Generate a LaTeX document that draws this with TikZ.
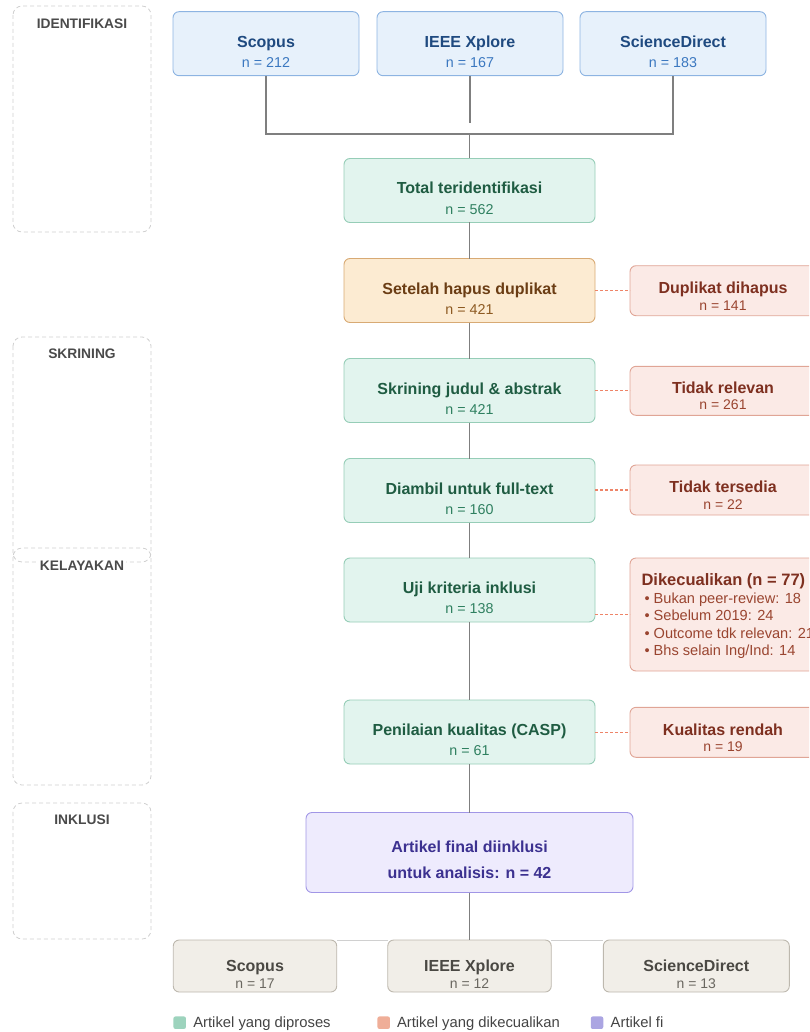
\documentclass[tikz,border=0pt]{standalone}
\usepackage{fontspec}
\setmainfont{Liberation Sans}
\definecolor{bfill}{HTML}{E7F1FB}\definecolor{bdraw}{HTML}{8DB4E2}\definecolor{btit}{HTML}{1F4A80}\definecolor{bn}{HTML}{3B78C0}
\definecolor{gfill}{HTML}{E2F4EE}\definecolor{gdraw}{HTML}{96CDB7}\definecolor{gtit}{HTML}{1F5C42}\definecolor{gn}{HTML}{2F8060}
\definecolor{ofill}{HTML}{FCEBD2}\definecolor{odraw}{HTML}{D8AA74}\definecolor{otit}{HTML}{6B3D14}\definecolor{on}{HTML}{8D5A22}
\definecolor{rfill}{HTML}{FBEAE6}\definecolor{rdraw}{HTML}{E0A596}\definecolor{rtit}{HTML}{7E3020}\definecolor{rn}{HTML}{9A4530}
\definecolor{pfill}{HTML}{EEEBFD}\definecolor{pdraw}{HTML}{A196E6}\definecolor{ptit}{HTML}{3C3190}
\definecolor{yfill}{HTML}{F1EEE8}\definecolor{ydraw}{HTML}{BDB8AE}\definecolor{ytit}{HTML}{4A4843}\definecolor{yn}{HTML}{6A6760}
\definecolor{conncol}{HTML}{7F7F7F}\definecolor{dashcol}{HTML}{EE8468}\definecolor{phasecol}{HTML}{D0D0D0}\definecolor{phasetxt}{HTML}{4A4A4A}
\definecolor{leggreen}{HTML}{9DD3BD}\definecolor{legorange}{HTML}{EFAE98}\definecolor{legpurple}{HTML}{ABA5E2}\definecolor{legtxt}{HTML}{444444}
\begin{document}
\begin{tikzpicture}[x=1pt,y=-1pt,
  every node/.style={inner sep=0pt, outer sep=0pt},
  basebox/.style={draw, rounded corners=6pt, line width=0.9pt},
  srcbox/.style={basebox, fill=bfill, draw=bdraw},
  srctit/.style={font=\fontsize{16}{19}\selectfont\bfseries, text=btit},
  srcn/.style={font=\fontsize{14.3}{17}\selectfont, text=bn},
  grnbox/.style={basebox, fill=gfill, draw=gdraw},
  grntit/.style={font=\fontsize{16}{19}\selectfont\bfseries, text=gtit},
  grnn/.style={font=\fontsize{14.3}{17}\selectfont, text=gn},
  orabox/.style={basebox, fill=ofill, draw=odraw},
  oratit/.style={font=\fontsize{16}{19}\selectfont\bfseries, text=otit},
  oran/.style={font=\fontsize{14.3}{17}\selectfont, text=on},
  redbox/.style={basebox, fill=rfill, draw=rdraw},
  redtit/.style={font=\fontsize{16}{19}\selectfont\bfseries, text=rtit},
  redn/.style={font=\fontsize{14}{17}\selectfont, text=rn},
  begbox/.style={basebox, fill=yfill, draw=ydraw},
  begtit/.style={font=\fontsize{16}{19}\selectfont\bfseries, text=ytit},
  begn/.style={font=\fontsize{14}{17}\selectfont, text=yn},
  finbox/.style={basebox, fill=pfill, draw=pdraw},
  fintit/.style={font=\fontsize{16}{19}\selectfont\bfseries, text=ptit},
  phase/.style={draw=phasecol, line width=0.8pt, dash pattern=on 4pt off 3pt, rounded corners=9pt},
  phaselbl/.style={font=\fontsize{13.8}{16}\selectfont\bfseries, text=phasetxt, fill=white, inner xsep=2pt, inner ysep=1pt},
  conn/.style={draw=conncol, line width=1.3pt},
  lightconn/.style={draw=phasecol, line width=1pt},
  exconn/.style={draw=dashcol, line width=1.1pt, dash pattern=on 3pt off 2pt},
  legsq/.style={minimum width=12.5pt, minimum height=12.5pt, rounded corners=2pt},
  legtext/.style={font=\fontsize{14.8}{17}\selectfont, text=legtxt, anchor=base west},
  bul/.style={font=\fontsize{14.6}{17}\selectfont, text=rn, anchor=base west}
]
\useasboundingbox (0,0) rectangle (809,1032);
\clip (0,0) rectangle (809,1032);

% phase frames
\draw[phase] (13,6) rectangle (151,232);
\draw[phase] (13,337) rectangle (151,562);
\draw[phase] (13,548) rectangle (151,785);
\draw[phase] (13,803) rectangle (151,939);
\node[phaselbl, anchor=base] (ph1) at (82,28.3) {IDENTIFIKASI};
\node[phaselbl, anchor=base] (ph2) at (82,358.3) {SKRINING};
\node[phaselbl, anchor=base] (ph3) at (82,570.7) {KELAYAKAN};
\node[phaselbl, anchor=base] (ph4) at (82,824) {INKLUSI};

% coordinates for joins
\coordinate (hL) at (266,134);
\coordinate (hR) at (673,134);
\coordinate (hj) at (469.5,134);
\coordinate (ieeeEnd) at (470,123);

% sources
\node[srcbox, minimum width=186pt, minimum height=64pt] (s1) at (266,43.7) {};
\node[srctit, anchor=base] (s1-t) at (266,47.7) {Scopus};
\node[srcn, anchor=base] (s1-n) at (266,68) {n = 212};
\node[srcbox, minimum width=186pt, minimum height=64pt] (s2) at (470,43.7) {};
\node[srctit, anchor=base] (s2-t) at (470,47.7) {IEEE Xplore};
\node[srcn, anchor=base] (s2-n) at (470,68) {n = 167};
\node[srcbox, minimum width=186pt, minimum height=64pt] (s3) at (673,43.7) {};
\node[srctit, anchor=base] (s3-t) at (673,47.7) {ScienceDirect};
\node[srcn, anchor=base] (s3-n) at (673,68) {n = 183};

% main column
\node[grnbox, minimum width=251pt, minimum height=64pt] (total) at (469.5,190.5) {};
\node[grntit, anchor=base] (total-t) at (469.5,194) {Total teridentifikasi};
\node[grnn, anchor=base] (total-n) at (469.5,214.5) {n = 562};

\node[orabox, minimum width=251pt, minimum height=64pt] (setelah) at (469.5,290.5) {};
\node[oratit, anchor=base] (setelah-t) at (469.5,294.5) {Setelah hapus duplikat};
\node[oran, anchor=base] (setelah-n) at (469.5,314.5) {n = 421};

\node[grnbox, minimum width=251pt, minimum height=64pt] (skr) at (469.5,390.5) {};
\node[grntit, anchor=base] (skr-t) at (469.5,394.5) {Skrining judul \& abstrak};
\node[grnn, anchor=base] (skr-n) at (469.5,414.5) {n = 421};

\node[grnbox, minimum width=251pt, minimum height=64pt] (ambil) at (469.5,490.5) {};
\node[grntit, anchor=base] (ambil-t) at (469.5,494.5) {Diambil untuk full-text};
\node[grnn, anchor=base] (ambil-n) at (469.5,514.5) {n = 160};

\node[grnbox, minimum width=251pt, minimum height=64pt] (uji) at (469.5,590) {};
\node[grntit, anchor=base] (uji-t) at (469.5,593.5) {Uji kriteria inklusi};
\node[grnn, anchor=base] (uji-n) at (469.5,613.5) {n = 138};

\node[grnbox, minimum width=251pt, minimum height=64pt] (casp) at (469.5,732) {};
\node[grntit, anchor=base] (casp-t) at (469.5,735.5) {Penilaian kualitas (CASP)};
\node[grnn, anchor=base] (casp-n) at (469.5,755.5) {n = 61};

% exclusion boxes
\node[redbox, minimum width=186pt, minimum height=50pt] (dup) at (723,290.7) {};
\node[redtit, anchor=base] (dup-t) at (723,293.7) {Duplikat dihapus};
\node[redn, anchor=base] (dup-n) at (723,310) {n = 141};

\node[redbox, minimum width=186pt, minimum height=49pt] (rel) at (723,390.8) {};
\node[redtit, anchor=base] (rel-t) at (723,393.3) {Tidak relevan};
\node[redn, anchor=base] (rel-n) at (723,409.5) {n = 261};

\node[redbox, minimum width=186pt, minimum height=50pt] (sed) at (723,490) {};
\node[redtit, anchor=base] (sed-t) at (723,492.8) {Tidak tersedia};
\node[redn, anchor=base] (sed-n) at (723,509) {n = 22};

\node[redbox, minimum width=186pt, minimum height=113pt] (dik) at (723,614.5) {};
\node[redtit, anchor=base west, font=\fontsize{16.5}{19}\selectfont\bfseries] (dik-t) at (641.5,585.7) {Dikecualikan (n = 77)};
\node[bul] (dik-1) at (644.5,603.3) {• Bukan peer-review: 18};
\node[bul] (dik-2) at (644.5,620.8) {• Sebelum 2019: 24};
\node[bul] (dik-3) at (644.5,638.3) {• Outcome tdk relevan: 21};
\node[bul] (dik-4) at (644.5,655.8) {• Bhs selain Ing/Ind: 14};

\node[redbox, minimum width=186pt, minimum height=50pt] (low) at (723,732.3) {};
\node[redtit, anchor=base] (low-t) at (723,735.3) {Kualitas rendah};
\node[redn, anchor=base] (low-n) at (723,751.5) {n = 19};

% final
\node[finbox, minimum width=327pt, minimum height=80pt] (final) at (469.5,852.5) {};
\node[fintit, anchor=base] (final-t1) at (469.5,852.7) {Artikel final diinklusi};
\node[fintit, anchor=base] (final-t2) at (469.5,878.3) {untuk analisis: n = 42};

% bottom per source
\node[begbox, minimum width=163.5pt, minimum height=52pt] (b1) at (255,966) {};
\node[begtit, anchor=base] (b1-t) at (255,971.5) {Scopus};
\node[begn, anchor=base] (b1-n) at (255,988.3) {n = 17};
\node[begbox, minimum width=163.5pt, minimum height=52pt] (b2) at (469.5,966) {};
\node[begtit, anchor=base] (b2-t) at (469.5,971.5) {IEEE Xplore};
\node[begn, anchor=base] (b2-n) at (469.5,988.3) {n = 12};
\node[begbox, minimum width=186pt, minimum height=52pt] (b3) at (696.3,966) {};
\node[begtit, anchor=base] (b3-t) at (696.3,971.5) {ScienceDirect};
\node[begn, anchor=base] (b3-n) at (696.3,988.3) {n = 13};

% connectors
\draw[conn] (s1.south) -- (hL) -- (hR) -- (s3.south);
\draw[conn] (s2.south) -- (ieeeEnd);
\draw[conn] (hj) -- (total.north);
\draw[conn] (total.south) -- (setelah.north);
\draw[conn] (setelah.south) -- (skr.north);
\draw[conn] (skr.south) -- (ambil.north);
\draw[conn] (ambil.south) -- (uji.north);
\draw[conn] (uji.south) -- (casp.north);
\draw[conn] (casp.south) -- (final.north);
\draw[lightconn] (b1.north east) -- (b2.north west);
\draw[lightconn] (b2.north east) -- (b3.north west);
\draw[conn] (final.south) -- (b2.north);

% dashed exclusion connectors
\draw[exconn] (setelah.east |- dup.west) -- (dup.west);
\draw[exconn] (skr.east |- rel.west) -- (rel.west);
\draw[exconn] (ambil.east |- sed.west) -- (sed.west);
\draw[exconn] (uji.east |- dik.west) -- (dik.west);
\draw[exconn] (casp.east |- low.west) -- (low.west);

% legend
\node[legsq, fill=leggreen] (lg1) at (179.7,1022.7) {};
\node[legtext] (lg1-t) at (193.3,1027.3) {Artikel yang diproses};
\node[legsq, fill=legorange] (lg2) at (383.7,1022.7) {};
\node[legtext] (lg2-t) at (397,1027.3) {Artikel yang dikecualikan};
\node[legsq, fill=legpurple] (lg3) at (597,1022.7) {};
\node[legtext] (lg3-t) at (610.7,1027.3) {Artikel fi};
\end{tikzpicture}
\end{document}
